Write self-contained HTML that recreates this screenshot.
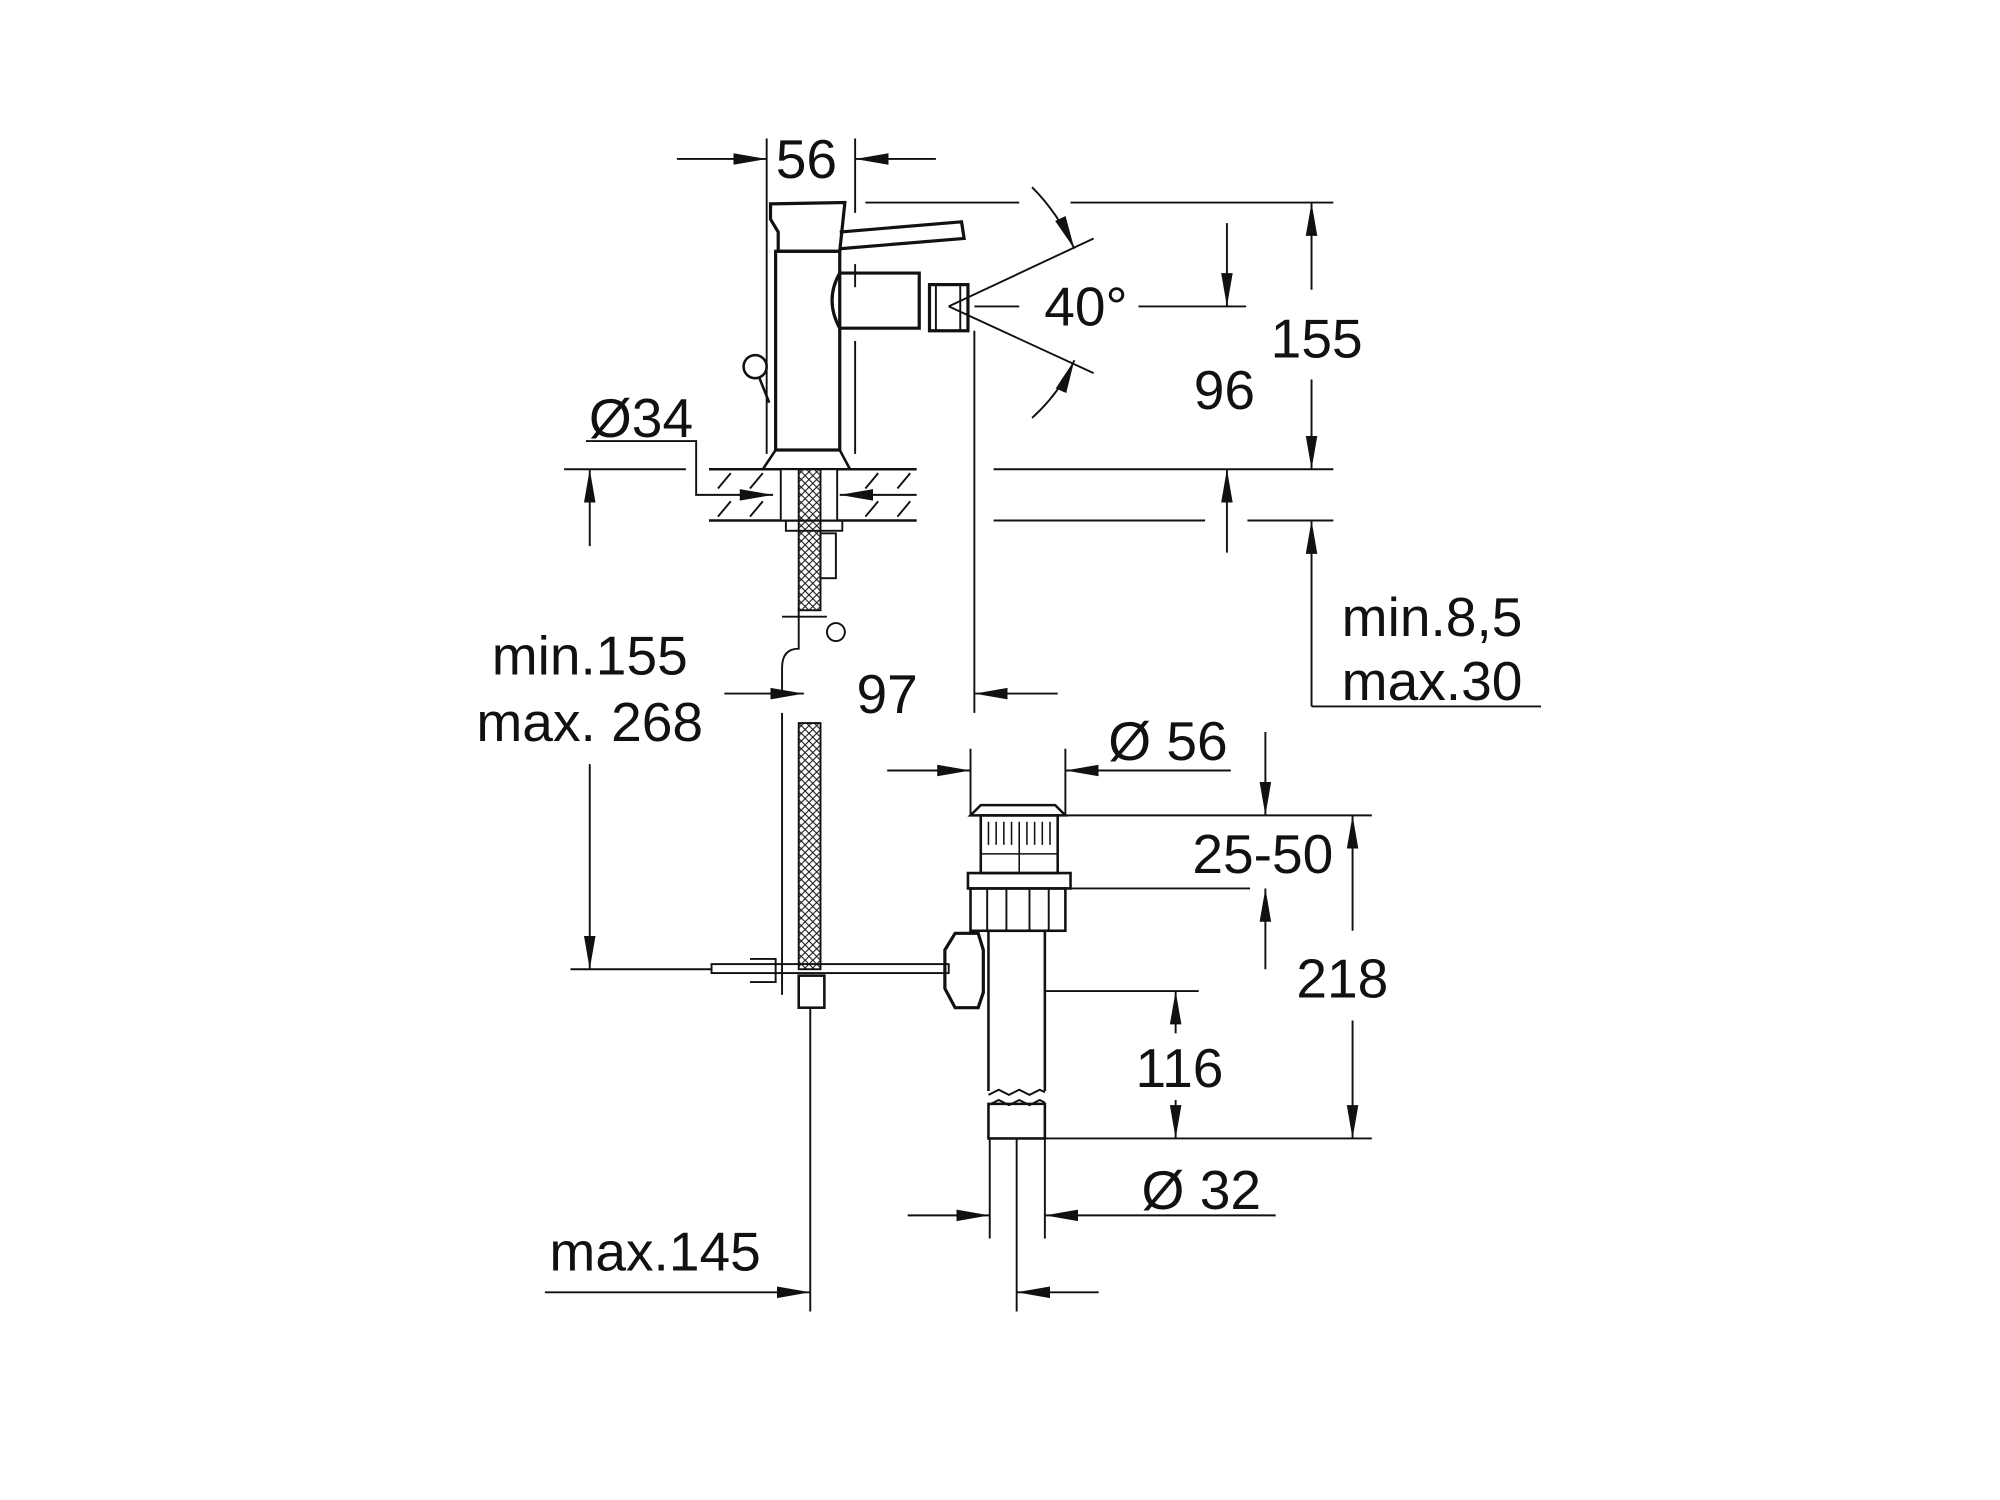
<!DOCTYPE html>
<html><head><meta charset="utf-8"><style>
html,body{margin:0;padding:0;background:#fff;width:2000px;height:1500px;overflow:hidden}
svg{display:block}
text{font-family:"Liberation Sans",sans-serif;font-size:43px;fill:#111}
</style></head><body>
<svg width="2000" height="1500" viewBox="0 0 1560 1170" preserveAspectRatio="none" xmlns="http://www.w3.org/2000/svg">
<defs>
<marker id="a" viewBox="0 0 26 10" refX="26" refY="5" markerWidth="26" markerHeight="10" markerUnits="userSpaceOnUse" orient="auto"><path d="M0,0.5 L26,5 L0,9.5z" fill="#111"/></marker>
<pattern id="hx" width="6" height="6" patternUnits="userSpaceOnUse"><path d="M0,0L6,6M6,0L0,6" stroke="#111" stroke-width="0.8"/></pattern>
</defs>
<g transform="translate(-5,-4)">
<g stroke="#111" stroke-width="1.5" fill="none">
<line x1="533" y1="128" x2="603" y2="128" marker-end="url(#a)"/>
<line x1="735" y1="128" x2="672" y2="128" marker-end="url(#a)"/>
<line x1="603" y1="112" x2="603" y2="358"/>
<line x1="672" y1="112" x2="672" y2="170"/>
<line x1="672" y1="210" x2="672" y2="228"/>
<line x1="672" y1="270" x2="672" y2="358"/>
<path d="M606,163 L664,162 L660,200 L612,200 L612,185 L606,175 Z" stroke-width="2.5"/>
<path d="M660,185 L755,177 L757,190 L660,198" stroke-width="2.5"/>
<rect x="610" y="200" width="50" height="155" stroke-width="2.5"/>
<path d="M660,217 L722,217 L722,260 L660,260 Q648,238 660,217Z" stroke-width="2.5"/>
<rect x="730" y="226" width="30" height="36" stroke-width="2.5"/>
<line x1="735" y1="226" x2="735" y2="262"/><line x1="754" y1="226" x2="754" y2="262"/>
<path d="M610,355 L660,355 L668,370 L600,370 Z" stroke-width="2"/>
<circle cx="594" cy="290" r="9" stroke-width="2"/>
<line x1="597" y1="298" x2="605" y2="318" stroke-width="2"/>
<line x1="745" y1="243" x2="858" y2="190"/>
<line x1="745" y1="243" x2="858" y2="295"/>
<line x1="765" y1="243" x2="800" y2="243"/>
<path d="M810,150 Q830,170 843,198" marker-end="url(#a)"/>
<path d="M810,330 Q832,310 843,285" marker-end="url(#a)"/>
<line x1="893" y1="243" x2="977" y2="243"/>
<line x1="962" y1="178" x2="962" y2="243" marker-end="url(#a)"/>
<line x1="680" y1="162" x2="800" y2="162"/>
<line x1="840" y1="162" x2="1045" y2="162"/>
<line x1="1028" y1="230" x2="1028" y2="162" marker-end="url(#a)"/>
<line x1="1028" y1="300" x2="1028" y2="370" marker-end="url(#a)"/>
<line x1="558" y1="370" x2="720" y2="370" stroke-width="2"/>
<line x1="558" y1="410" x2="720" y2="410" stroke-width="2"/>
<line x1="445" y1="370" x2="540" y2="370"/>
<line x1="780" y1="370" x2="1045" y2="370"/>
<line x1="780" y1="410" x2="945" y2="410"/>
<line x1="978" y1="410" x2="1045" y2="410"/>
<path d="M565,385l10,-12M590,385l10,-12M680,385l10,-12M705,385l10,-12M565,407l10,-12M590,407l10,-12M680,407l10,-12M705,407l10,-12"/>
<line x1="962" y1="435" x2="962" y2="370" marker-end="url(#a)"/>
<line x1="1028" y1="555" x2="1028" y2="410" marker-end="url(#a)"/>
<line x1="1028" y1="555" x2="1207" y2="555"/>
<polyline points="462,348 548,348 548,390 608,390" marker-end="url(#a)"/>
<line x1="720" y1="390" x2="660" y2="390" marker-end="url(#a)"/>
<rect x="614" y="370" width="44" height="40" fill="#fff"/>
<rect x="618" y="410" width="44" height="8"/>
<rect x="628" y="370" width="17" height="110" fill="url(#hx)"/>
<rect x="645" y="420" width="12" height="35"/>
<path d="M615,485 L650,485 M628,478 L628,510 Q615,510 615,525 L615,545"/>
<circle cx="657" cy="497" r="7"/>
<line x1="615" y1="560" x2="615" y2="780"/>
<rect x="628" y="568" width="17" height="192" fill="url(#hx)"/>
<line x1="465" y1="430" x2="465" y2="370" marker-end="url(#a)"/>
<line x1="465" y1="600" x2="465" y2="760" marker-end="url(#a)"/>
<line x1="450" y1="760" x2="560" y2="760"/>
<line x1="570" y1="545" x2="632" y2="545" marker-end="url(#a)"/>
<line x1="830" y1="545" x2="765" y2="545" marker-end="url(#a)"/>
<line x1="765" y1="262" x2="765" y2="560"/>
<rect x="560" y="756" width="185" height="7"/>
<path d="M590,752 L610,752 L610,770 L590,770"/>
<rect x="628" y="765" width="20" height="25" stroke-width="2"/>
<line x1="637" y1="790" x2="637" y2="1027"/>
<line x1="430" y1="1012" x2="637" y2="1012" marker-end="url(#a)"/>
<line x1="762" y1="588" x2="762" y2="640"/>
<line x1="836" y1="588" x2="836" y2="640"/>
<line x1="697" y1="605" x2="762" y2="605" marker-end="url(#a)"/>
<line x1="965" y1="605" x2="836" y2="605" marker-end="url(#a)"/>
<path d="M762,640 L770,632 L828,632 L836,640 Z" stroke-width="2"/>
<rect x="770" y="640" width="60" height="45" stroke-width="2"/>
<path d="M776,645v18M782,645v18M788,645v18M794,645v18M800,645v18M806,645v18M812,645v18M818,645v18M824,645v18M770,670h60M800,663v22" stroke-width="1.2"/>
<path d="M760,685 L840,685 L840,697 L760,697 Z" stroke-width="2"/>
<rect x="762" y="697" width="74" height="33" stroke-width="2"/>
<path d="M775,697v33M790,697v33M808,697v33M823,697v33"/>
<rect x="776" y="730" width="44" height="128" stroke-width="2"/>
<rect x="776" y="865" width="44" height="27" stroke-width="2"/>
<rect x="772" y="855" width="52" height="9" fill="#fff" stroke="none"/>
<path d="M776,858 l8,-4 l8,4 l8,-4 l8,4 l8,-4 l4,2 M776,866 l8,-4 l8,4 l8,-4 l8,4 l8,-4 l4,2"/>
<path d="M750,732 L768,732 L772,745 L772,778 L768,790 L750,790 L742,775 L742,745 Z" stroke-width="2.5"/>
<line x1="992" y1="575" x2="992" y2="640" marker-end="url(#a)"/>
<line x1="836" y1="640" x2="1075" y2="640"/>
<line x1="840" y1="697" x2="980" y2="697"/>
<line x1="992" y1="760" x2="992" y2="697" marker-end="url(#a)"/>
<line x1="1060" y1="730" x2="1060" y2="640" marker-end="url(#a)"/>
<line x1="1060" y1="800" x2="1060" y2="892" marker-end="url(#a)"/>
<line x1="820" y1="892" x2="1075" y2="892"/>
<line x1="820" y1="777" x2="940" y2="777"/>
<line x1="922" y1="810" x2="922" y2="777" marker-end="url(#a)"/>
<line x1="922" y1="862" x2="922" y2="892" marker-end="url(#a)"/>
<line x1="777" y1="892" x2="777" y2="970"/>
<line x1="820" y1="892" x2="820" y2="970"/>
<line x1="713" y1="952" x2="777" y2="952" marker-end="url(#a)"/>
<line x1="1000" y1="952" x2="820" y2="952" marker-end="url(#a)"/>
<line x1="798" y1="892" x2="798" y2="1027"/>
<line x1="862" y1="1012" x2="798" y2="1012" marker-end="url(#a)"/>
</g>
<g text-anchor="middle">
<text x="634" y="143">56</text>
<text x="852" y="258">40°</text>
<text x="960" y="323">96</text>
<text x="1032" y="283">155</text>
<text x="505" y="345">Ø34</text>
<text x="1122" y="500">min.8,5</text>
<text x="1122" y="550">max.30</text>
<text x="465" y="530">min.155</text>
<text x="465" y="582">max. 268</text>
<text x="697" y="560">97</text>
<text x="916" y="597">Ø 56</text>
<text x="990" y="685">25-50</text>
<text x="1052" y="782">218</text>
<text x="925" y="852">116</text>
<text x="942" y="947">Ø 32</text>
<text x="516" y="995">max.145</text>
</g>
</g>
</svg>
</body></html>
